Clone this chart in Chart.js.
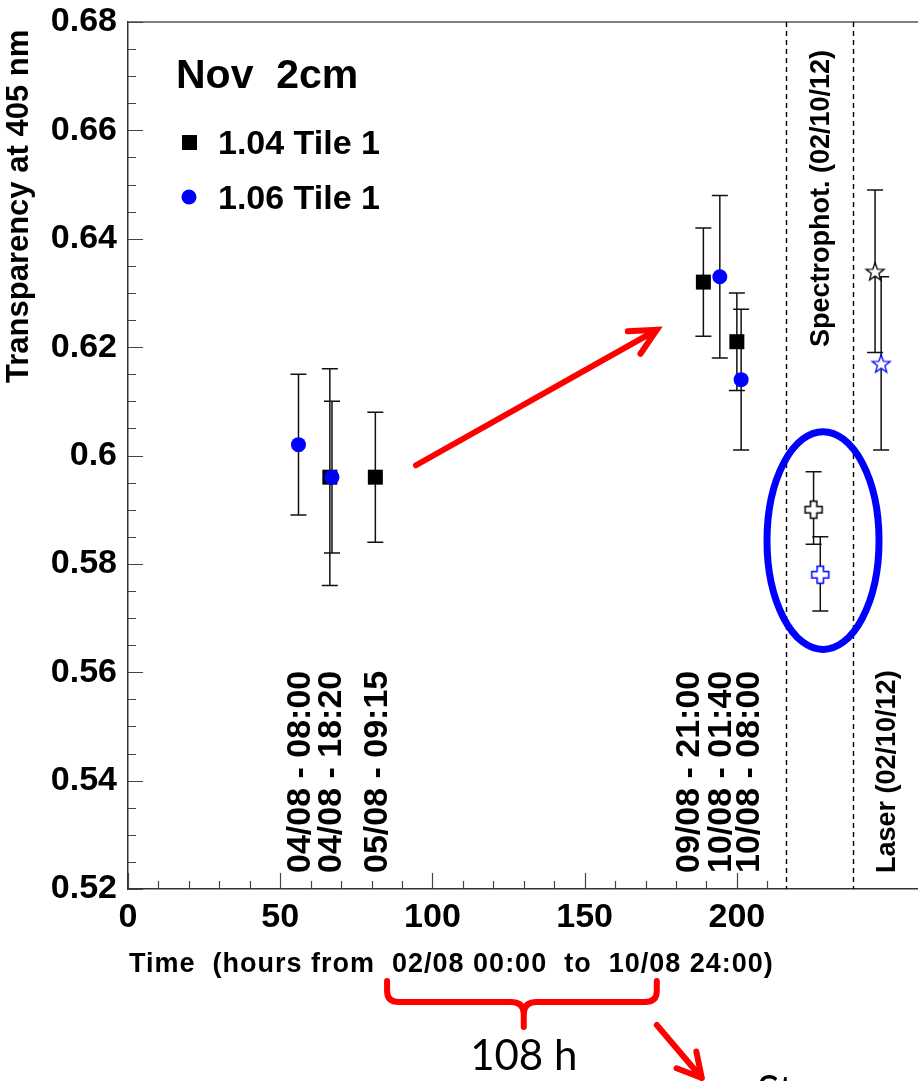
<!DOCTYPE html>
<html>
<head>
<meta charset="utf-8">
<script src="https://cdn.jsdelivr.net/npm/chart.js@4.4.1/dist/chart.umd.min.js"></script>
<style>
html, body { margin: 0; padding: 0; background: #fff; overflow: hidden; }
#wrap { width: 918px; height: 1081px; position: relative; }
canvas { display: block; }
</style>
</head>
<body>
<div id="wrap"><canvas id="c"></canvas></div>
<script>
// 1.04 Tile 1 (black squares)
var t104Hours = [66.3, 81.25, 189, 200];
var t104Value = [0.596, 0.596, 0.632, 0.621];
var t104Low   = [0.576, 0.584, 0.622, 0.612];
var t104High  = [0.616, 0.608, 0.642, 0.630];

// 1.06 Tile 1 (blue circles)
var t106Hours = [56, 67, 194.4, 201.4];
var t106Value = [0.602, 0.596, 0.633, 0.614];
var t106Low   = [0.589, 0.582, 0.618, 0.601];
var t106High  = [0.615, 0.610, 0.648, 0.627];

// Spectrophot. (02/10/12): black = 1.04, blue = 1.06
var specHours = [225.2, 227.4];
var specValue = [0.590, 0.578];
var specLow   = [0.5836, 0.5713];
var specHigh  = [0.597, 0.585];

// Laser (02/10/12)
var laserHours = [245.4, 247.4];
var laserValue = [0.634, 0.617];
var laserLow   = [0.619, 0.601];
var laserHigh  = [0.649, 0.633];

var xTickValues = [0, 50, 100, 150, 200];
var yTickValues = [0.52, 0.54, 0.56, 0.58, 0.6, 0.62, 0.64, 0.66, 0.68];

var dateLabels = ['04/08 - 08:00', '04/08 - 18:20', '05/08 - 09:15',
                  '09/08 - 21:00', '10/08 - 01:40', '10/08 - 08:00'];
var dateLabelHours = [56.8, 67, 82.1, 184.6, 195.1, 204.3];
var dividerHours = [216.3, 238.3];

var FONT = "'Liberation Sans', Arial, sans-serif";
var BLUE = '#0000ff';
var RED = '#ff0000';

function points(h, v, lo, hi) {
    return h.map(function(x, i) { return {x: x, y: v[i], lo: lo[i], hi: hi[i]}; });
}

function openCross(color) {
    var c = document.createElement('canvas');
    c.width = c.height = 22;
    var g = c.getContext('2d');
    var m = 11, w = 3.2, L = 8.5;
    var p = [[m-w,m-L],[m+w,m-L],[m+w,m-w],[m+L,m-w],[m+L,m+w],[m+w,m+w],
             [m+w,m+L],[m-w,m+L],[m-w,m+w],[m-L,m+w],[m-L,m-w],[m-w,m-w]];
    g.beginPath();
    p.forEach(function(q, i) { if (i) g.lineTo(q[0], q[1]); else g.moveTo(q[0], q[1]); });
    g.closePath();
    g.fillStyle = '#fff'; g.fill();
    g.strokeStyle = color; g.lineWidth = 1.5; g.stroke();
    return c;
}

function openStar(color) {
    var c = document.createElement('canvas');
    c.width = c.height = 24;
    var g = c.getContext('2d');
    var m = 12, R = 9.5, r = 3.9;
    g.beginPath();
    for (var i = 0; i < 10; i++) {
        var a = -Math.PI / 2 + i * Math.PI / 5;
        var rr = i % 2 ? r : R;
        var px = m + rr * Math.cos(a), py = m + 1 + rr * Math.sin(a);
        if (i) g.lineTo(px, py); else g.moveTo(px, py);
    }
    g.closePath();
    g.fillStyle = '#fff'; g.fill();
    g.strokeStyle = color; g.lineWidth = 1.3; g.stroke();
    return c;
}

function vtext(ctx, str, x, y, font) {
    ctx.save();
    ctx.translate(x, y);
    ctx.rotate(-Math.PI / 2);
    ctx.font = font;
    ctx.textAlign = 'left';
    ctx.textBaseline = 'middle';
    ctx.fillText(str, 0, 0);
    ctx.restore();
}

function arrow(ctx, x0, y0, x1, y1, len, spread) {
    var back = Math.atan2(y0 - y1, x0 - x1);
    ctx.beginPath();
    ctx.moveTo(x0, y0); ctx.lineTo(x1, y1);
    ctx.moveTo(x1 + len * Math.cos(back + spread), y1 + len * Math.sin(back + spread));
    ctx.lineTo(x1, y1);
    ctx.lineTo(x1 + len * Math.cos(back - spread), y1 + len * Math.sin(back - spread));
    ctx.stroke();
}

function noPad(s) {
    s.paddingTop = 0; s.paddingBottom = 0; s.paddingLeft = 0; s.paddingRight = 0;
}

var rootPlot = {
    id: 'rootPlot',
    beforeDatasetsDraw: function(chart) {
        var ctx = chart.ctx, a = chart.chartArea, x = chart.scales.x, y = chart.scales.y;
        ctx.save();
        // top frame line
        ctx.strokeStyle = '#555'; ctx.lineWidth = 1.5;
        ctx.beginPath(); ctx.moveTo(a.left, a.top); ctx.lineTo(a.right, a.top); ctx.stroke();

        // dashed dividers
        ctx.strokeStyle = '#000'; ctx.lineWidth = 1.4; ctx.setLineDash([5, 4]);
        dividerHours.forEach(function(h) {
            var px = Math.round(x.getPixelForValue(h)) + 0.5;
            ctx.beginPath(); ctx.moveTo(px, a.top); ctx.lineTo(px, a.bottom); ctx.stroke();
        });
        ctx.setLineDash([]);

        // error bars
        ctx.strokeStyle = '#111'; ctx.lineWidth = 1.5;
        chart.data.datasets.forEach(function(ds) {
            ds.data.forEach(function(p) {
                var px = x.getPixelForValue(p.x);
                var lo = y.getPixelForValue(p.lo), hi = y.getPixelForValue(p.hi);
                ctx.beginPath();
                ctx.moveTo(px, lo); ctx.lineTo(px, hi);
                ctx.moveTo(px - 8, lo); ctx.lineTo(px + 8, lo);
                ctx.moveTo(px - 8, hi); ctx.lineTo(px + 8, hi);
                ctx.stroke();
            });
        });
        ctx.restore();
    },
    afterDatasetsDraw: function(chart) {
        var ctx = chart.ctx, a = chart.chartArea, x = chart.scales.x, y = chart.scales.y;
        ctx.save();

        // ticks inside the frame
        ctx.strokeStyle = '#444'; ctx.lineWidth = 1.2;
        ctx.beginPath();
        for (var v = 0; v <= 210.001; v += 10) {
            var px = Math.round(x.getPixelForValue(v)) + 0.5;
            var len = (v % 50 === 0) ? 16 : 8;
            ctx.moveTo(px, a.bottom); ctx.lineTo(px, a.bottom - len);
        }
        for (var k = 0; k <= 32; k++) {
            var val = 0.52 + k * 0.005;
            var py = Math.round(y.getPixelForValue(val)) + 0.5;
            var l2 = (k % 4 === 0) ? 15 : 8;
            ctx.moveTo(a.left, py); ctx.lineTo(a.left + l2, py);
        }
        ctx.stroke();

        // blue ellipse round the spectrophotometer points
        var cx = x.getPixelForValue(228.3), cy = y.getPixelForValue(0.5843);
        var rx = x.getPixelForValue(228.3 + 18.4) - cx;
        var ry = cy - y.getPixelForValue(0.5843 + 0.0201);
        ctx.strokeStyle = BLUE; ctx.lineWidth = 7;
        ctx.beginPath(); ctx.ellipse(cx, cy, rx, ry, 0, 0, Math.PI * 2); ctx.stroke();

        // red arrow inside the plot
        ctx.strokeStyle = RED; ctx.lineWidth = 6; ctx.lineCap = 'round';
        arrow(ctx, x.getPixelForValue(94.6), y.getPixelForValue(0.5982),
              x.getPixelForValue(173.7), y.getPixelForValue(0.6232), 29, 0.46);

        ctx.fillStyle = '#000';
        // date labels
        dateLabels.forEach(function(s, i) {
            vtext(ctx, s, x.getPixelForValue(dateLabelHours[i]), a.bottom - 16, 'bold 34px ' + FONT);
        });
        vtext(ctx, 'Spectrophot. (02/10/12)', x.getPixelForValue(227.9), 347, 'bold 27px ' + FONT);
        vtext(ctx, 'Laser (02/10/12)', x.getPixelForValue(249.6), a.bottom - 16, 'bold 27px ' + FONT);

        // title and legend
        ctx.textAlign = 'left'; ctx.textBaseline = 'alphabetic';
        ctx.font = 'bold 41px ' + FONT;
        ctx.fillText('Nov  2cm', 176, 88);
        ctx.font = 'bold 34px ' + FONT;
        var d0 = chart.data.datasets[0], d1 = chart.data.datasets[1];
        ctx.fillStyle = d0.backgroundColor;
        ctx.fillRect(182, 135, 15, 15);
        ctx.fillStyle = '#000';
        ctx.fillText(d0.label, 218, 154);
        ctx.fillStyle = d1.backgroundColor;
        ctx.beginPath(); ctx.arc(189, 197, 7.5, 0, Math.PI * 2); ctx.fill();
        ctx.fillStyle = '#000';
        ctx.fillText(d1.label, 218, 209);
        ctx.restore();
    },
    afterDraw: function(chart) {
        var ctx = chart.ctx, a = chart.chartArea, x = chart.scales.x;
        ctx.save();
        ctx.fillStyle = '#000';
        // axis titles
        vtext(ctx, 'Transparency at 405 nm', 19, 383, 'bold 31px ' + FONT);
        ctx.font = 'bold 27px ' + FONT;
        ctx.letterSpacing = '1px';
        ctx.textAlign = 'left'; ctx.textBaseline = 'alphabetic';
        ctx.fillText('Time  (hours from  02/08 00:00  to  10/08 24:00)', 129, 972);
        ctx.letterSpacing = '0px';

        // red brace under the x title
        var bl = x.getPixelForValue(85.1), bc = x.getPixelForValue(130), br = x.getPixelForValue(173.7);
        var top = a.bottom + 92, mid = a.bottom + 113, tip = a.bottom + 138;
        ctx.strokeStyle = RED; ctx.lineWidth = 6; ctx.lineCap = 'round'; ctx.lineJoin = 'round';
        ctx.beginPath();
        ctx.moveTo(bl, top); ctx.lineTo(bl, mid - 11);
        ctx.quadraticCurveTo(bl, mid, bl + 12, mid);
        ctx.lineTo(bc - 13, mid);
        ctx.quadraticCurveTo(bc, mid, bc, mid + 12);
        ctx.lineTo(bc, tip);
        ctx.moveTo(bc, mid + 12);
        ctx.quadraticCurveTo(bc, mid, bc + 13, mid);
        ctx.lineTo(br - 12, mid);
        ctx.quadraticCurveTo(br, mid, br, mid - 11);
        ctx.lineTo(br, top);
        ctx.stroke();

        // second red arrow
        arrow(ctx, br, a.bottom + 136, br + 45, a.bottom + 189, 27, 0.5);

        ctx.fillStyle = '#000';
        ctx.font = "42px Lato, 'Open Sans', sans-serif";
        ctx.textAlign = 'center';
        ctx.fillText('108 h', bc, a.bottom + 181);
        ctx.textAlign = 'left';
        ctx.fillText('St', 757, a.bottom + 217);
        ctx.restore();
    }
};

var ctx = document.getElementById('c').getContext('2d');
new Chart(ctx, {
    type: 'scatter',
    data: {
        datasets: [{
            label: '1.04 Tile 1',
            data: points(t104Hours, t104Value, t104Low, t104High),
            order: 2,
            pointStyle: 'rect',
            pointRadius: 10.6,
            backgroundColor: '#000',
            borderColor: '#000',
            borderWidth: 0
        }, {
            label: '1.06 Tile 1',
            data: points(t106Hours, t106Value, t106Low, t106High),
            order: 1,
            pointStyle: 'circle',
            pointRadius: 7.5,
            backgroundColor: BLUE,
            borderColor: BLUE,
            borderWidth: 0
        }, {
            label: 'Spectrophot. 1.04',
            data: [points(specHours, specValue, specLow, specHigh)[0]],
            pointStyle: openCross('#000')
        }, {
            label: 'Spectrophot. 1.06',
            data: [points(specHours, specValue, specLow, specHigh)[1]],
            pointStyle: openCross(BLUE)
        }, {
            label: 'Laser 1.04',
            data: [points(laserHours, laserValue, laserLow, laserHigh)[0]],
            pointStyle: openStar('#000')
        }, {
            label: 'Laser 1.06',
            data: [points(laserHours, laserValue, laserLow, laserHigh)[1]],
            pointStyle: openStar(BLUE)
        }]
    },
    options: {
        responsive: true,
        maintainAspectRatio: false,
        animation: false,
        events: [],
        layout: { autoPadding: false, padding: { top: 22, left: 0, right: 0, bottom: 0 } },
        plugins: { legend: { display: false }, tooltip: { enabled: false } },
        scales: {
            x: {
                type: 'linear',
                min: 0,
                max: 259.5,
                afterBuildTicks: function(s) { s.ticks = xTickValues.map(function(v) { return {value: v}; }); },
                afterFit: function(s) { s.height = 192; noPad(s); },
                grid: { display: false, drawTicks: false },
                border: { display: true, color: '#333', width: 1.5 },
                ticks: {
                    color: '#000', padding: 8, maxRotation: 0, autoSkip: false,
                    font: { family: FONT, size: 34, weight: 'bold' },
                    callback: function(v) { return String(v); }
                }
            },
            y: {
                min: 0.52,
                max: 0.68,
                afterBuildTicks: function(s) { s.ticks = yTickValues.map(function(v) { return {value: v}; }); },
                afterFit: function(s) { s.width = 128; noPad(s); },
                grid: { display: false, drawTicks: false },
                border: { display: true, color: '#333', width: 1.5 },
                ticks: {
                    color: '#000', padding: 11, autoSkip: false,
                    font: { family: FONT, size: 34, weight: 'bold' },
                    callback: function(v) { return String(+v.toFixed(2)); }
                }
            }
        }
    },
    plugins: [rootPlot]
});
</script>
</body>
</html>
